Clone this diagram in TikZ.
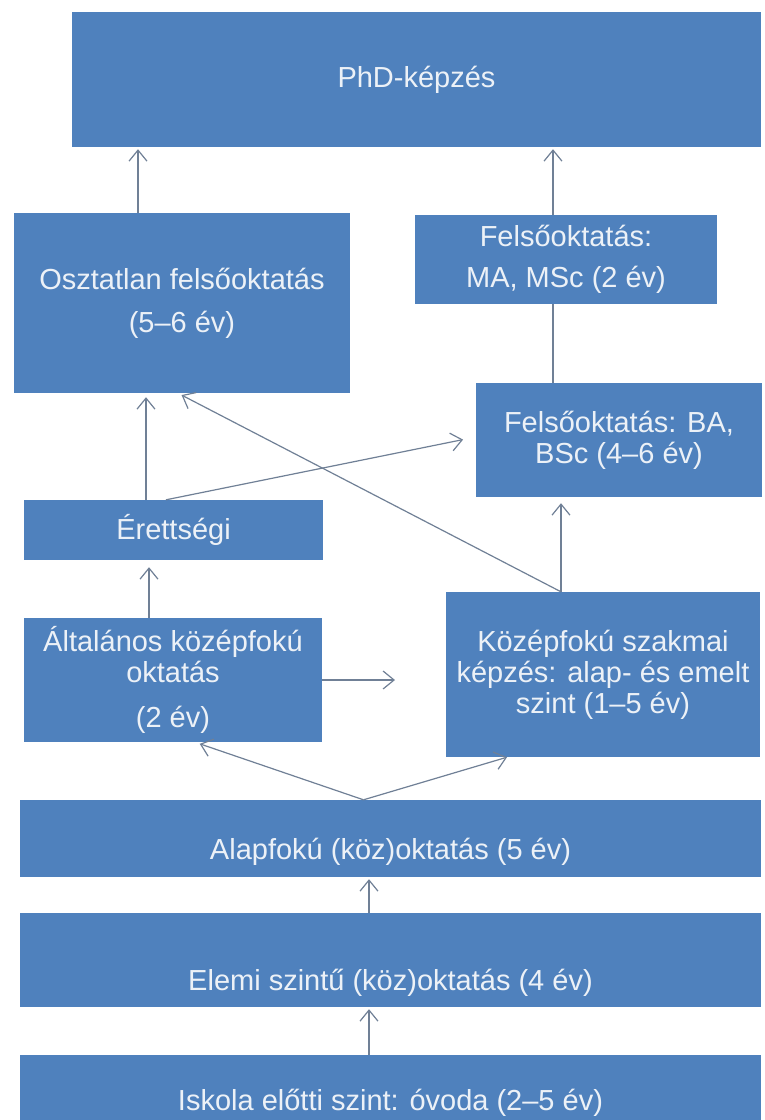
\documentclass[tikz,border=0pt]{standalone}
\usepackage{fontspec}
\setmainfont{Liberation Sans}
\usepackage{tikz}
\usetikzlibrary{positioning, arrows.meta, calc}

\definecolor{boxblue}{RGB}{79,129,189}
\definecolor{boxtext}{RGB}{236,241,247}
\definecolor{arrowgray}{RGB}{112,128,150}

\tikzset{
    level/.style={fill=boxblue, text=boxtext, inner sep=0pt, font=\fontsize{29}{31}\selectfont},
    arr/.style={draw=arrowgray, line width=1.2pt, -{Straight Barb[length=11pt,width=18pt]}},
    link/.style={draw=arrowgray, line width=1.2pt},
}

\begin{document}
\begin{tikzpicture}[x=1pt, y=-1pt]
    \fill[white] (0,0) rectangle (764,1120);
    \useasboundingbox (0,0) rectangle (764,1120);

    % Upper levels
    \node [level, minimum width=689pt, minimum height=135pt] (phd) at (416.5,79.5) {PhD-képzés};
    \node [level, align=center, minimum width=336pt, minimum height=180pt] (osztatlan) at (182,303) {Osztatlan felsőoktatás\\[12pt](5–6 év)};
    \node [level, align=center, minimum width=302pt, minimum height=89pt] (ma) at (566,259.5) {Felsőoktatás:\\[10pt]MA, MSc (2 év)};
    \node [level, align=center, minimum width=286pt, minimum height=114pt] (ba) at (619,440) {Felsőoktatás: BA,\\BSc (4–6 év)};

    % Secondary level
    \node [level, minimum width=299pt, minimum height=60pt] (erettsegi) at (173.5,530) {Érettségi};
    \node [level, align=center, minimum width=298pt, minimum height=124pt] (altalanos) at (173,680) {Általános középfokú\\oktatás\\[14pt](2 év)};
    \node [level, align=center, minimum width=314pt, minimum height=165pt] (kozepfoku) at (603,674.5) {Középfokú szakmai\\képzés: alap- és emelt\\szint (1–5 év)};

    % Lower levels (text sits low in the box)
    \node [level, minimum width=741pt, minimum height=77pt, text height=48pt, text depth=6pt] (alapfoku) at (390.5,838.5) {Alapfokú (köz)oktatás (5 év)};
    \node [level, minimum width=741pt, minimum height=94pt, text height=67pt, text depth=6pt] (elemi) at (390.5,960) {Elemi szintű (köz)oktatás (4 év)};
    \node [level, minimum width=741pt, minimum height=65pt, text height=52pt, text depth=6pt] (iskola) at (390.5,1087.5) {Iskola előtti szint: óvoda (2–5 év)};

    % Connectors
    \draw [arr, shorten >=2pt] ([xshift=-44pt]osztatlan.north) -- ([xshift=-44pt]osztatlan.north |- phd.south);
    \draw [arr, shorten >=2pt] ([xshift=-13pt]ma.north) -- ([xshift=-13pt]ma.north |- phd.south);
    \draw [link] ([xshift=-13pt]ma.south) -- ([xshift=-13pt]ma.south |- ba.north);
    \draw [arr, shorten >=4pt] ([xshift=-27.5pt]erettsegi.north) -- ([xshift=-27.5pt]erettsegi.north |- osztatlan.south);
    \draw [arr, shorten >=13pt] ([xshift=-7.5pt]erettsegi.north) -- ([yshift=3pt]ba.west);
    \draw [arr, shorten >=4pt] ([xshift=-42pt]kozepfoku.north) -- ([xshift=-4pt]osztatlan.south);
    \draw [arr, shorten >=6pt] ([xshift=-42pt]kozepfoku.north) -- ([xshift=-42pt]kozepfoku.north |- ba.south);
    \draw [arr, shorten >=7pt] ([xshift=-24pt]altalanos.north) -- ([xshift=-24pt]altalanos.north |- erettsegi.south);
    \coordinate (gap) at (395,680);
    \draw [arr] (altalanos.east) -- (gap);
    \draw [arr, shorten >=5pt] ([xshift=-27pt]alapfoku.north) -- ([xshift=22pt]altalanos.south);
    \draw [arr] ([xshift=-27pt]alapfoku.north) -- ([xshift=-96pt]kozepfoku.south);
    \draw [arr, shorten >=2pt] ([xshift=-21.5pt]elemi.north) -- ([xshift=-21.5pt]elemi.north |- alapfoku.south);
    \draw [arr, shorten >=2pt] ([xshift=-21.5pt]iskola.north) -- ([xshift=-21.5pt]iskola.north |- elemi.south);
\end{tikzpicture}
\end{document}
